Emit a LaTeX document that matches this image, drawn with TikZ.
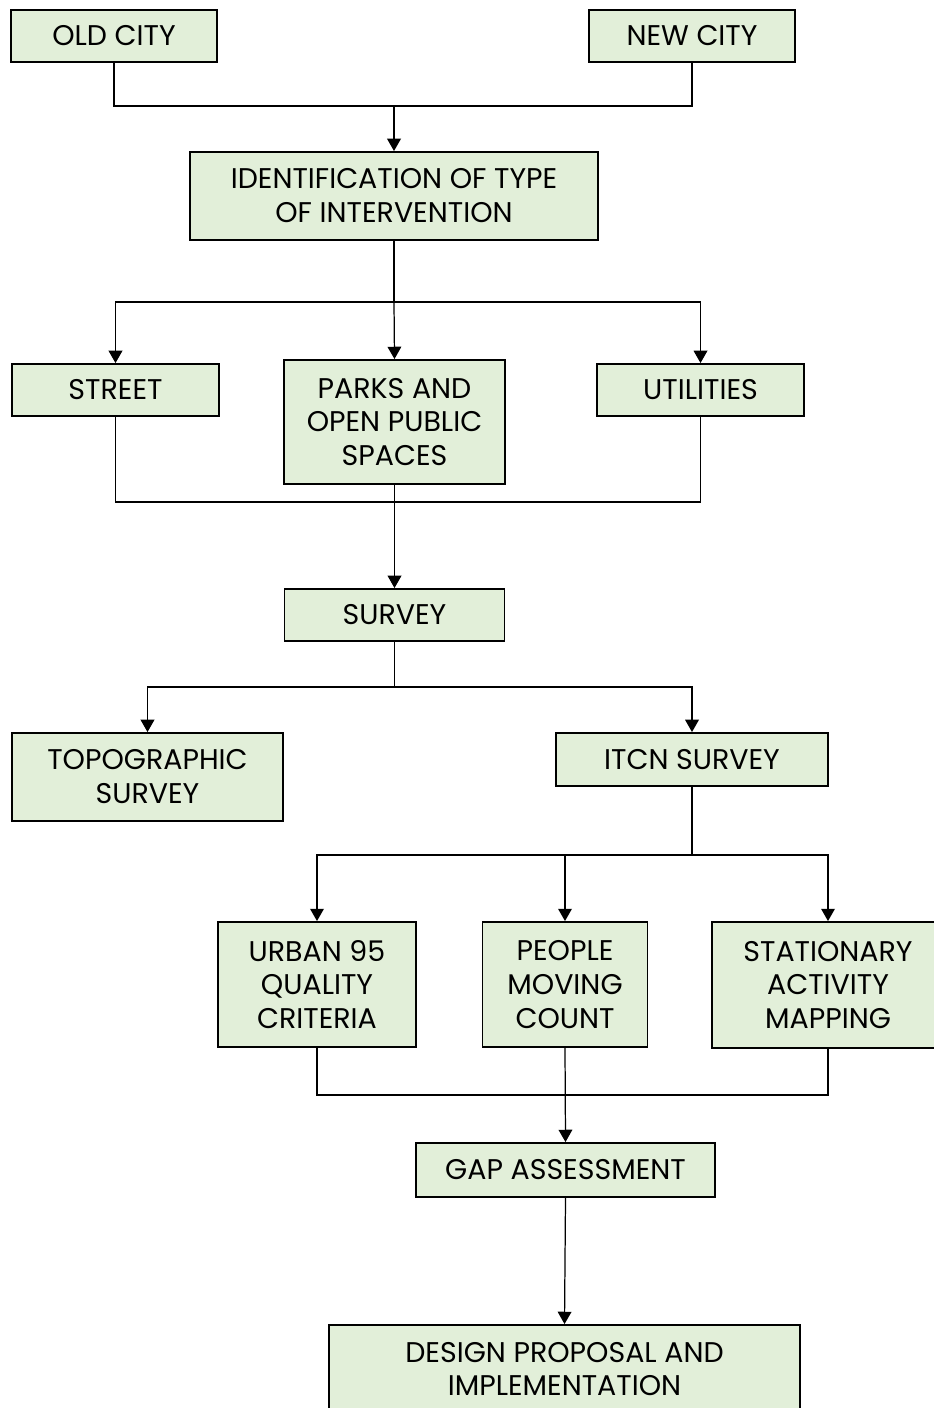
\documentclass[tikz,border=0pt]{standalone}
\usepackage{fontspec}
\setmainfont{Poppins}
\usepackage{xcolor}
\usetikzlibrary{arrows.meta}
\definecolor{boxgreen}{HTML}{E2EFD9}
\tikzset{
  stage/.style={draw=black,line width=1.1pt,fill=boxgreen,inner sep=0pt,
    align=center,font=\fontsize{16.2pt}{19.3pt}\selectfont},
  link/.style={line width=0.7pt},
  arr/.style={link,-{Triangle[length=7pt,width=7.8pt]}}
}
\begin{document}
\begin{tikzpicture}[x=0.02cm,y=-0.02cm]
    \useasboundingbox (0,0) rectangle (933,1408);
    \node[stage,minimum width=4.12cm,minimum height=1.04cm] (old) at (114,36) {OLD CITY};
    \node[stage,minimum width=4.12cm,minimum height=1.04cm] (new) at (692,36) {NEW CITY};
    \node[stage,minimum width=8.16cm,minimum height=1.76cm] (ident) at (394,196) {IDENTIFICATION OF TYPE\\OF INTERVENTION};
    \node[stage,minimum width=4.14cm,minimum height=1.04cm] (street) at (115.5,390) {STREET};
    \node[stage,minimum width=4.42cm,minimum height=2.48cm] (parks) at (394.5,422) {PARKS AND\\OPEN PUBLIC\\SPACES};
    \node[stage,minimum width=4.14cm,minimum height=1.04cm] (util) at (700.5,390) {UTILITIES};
    \node[stage,minimum width=4.40cm,minimum height=1.04cm] (survey) at (394.5,615) {SURVEY};
    \node[stage,minimum width=5.42cm,minimum height=1.76cm] (topo) at (147.5,777) {TOPOGRAPHIC\\SURVEY};
    \node[stage,minimum width=5.44cm,minimum height=1.06cm] (itcn) at (692,759.5) {ITCN SURVEY};
    \node[stage,minimum width=3.96cm,minimum height=2.50cm] (urban) at (317,984.5) {URBAN 95\\QUALITY\\CRITERIA};
    \node[stage,minimum width=3.30cm,minimum height=2.50cm] (people) at (565,984.5) {PEOPLE\\MOVING\\COUNT};
    \node[stage,minimum width=4.64cm,minimum height=2.52cm] (station) at (828,985) {STATIONARY\\ACTIVITY\\MAPPING};
    \node[stage,minimum width=5.98cm,minimum height=1.08cm] (gap) at (565.5,1170) {GAP ASSESSMENT};
    \node[stage,minimum width=9.42cm,minimum height=1.76cm] (design) at (564.5,1369) {DESIGN PROPOSAL AND\\IMPLEMENTATION};
    \coordinate (j1) at (394,106);
    \coordinate (j2) at (394,302);
    \coordinate (j3) at (394.5,502);
    \coordinate (j4) at (394.5,687);
    \coordinate (j5) at (692,855);
    \coordinate (j6) at (565,1095);
    \draw[link] (old.south) |- (j1) -| (new.south);
    \draw[arr] (j1) -- (ident.north);
    \draw[link] (ident.south) -- (j2);
    \draw[arr] (j2) -| (street.north);
    \draw[arr] (j2) -- (parks.north);
    \draw[arr] (j2) -| (util.north);
    \draw[link] (street.south) |- (j3) -| (util.south);
    \draw[arr] (parks.south) -- (survey.north);
    \draw[link] (survey.south) -- (j4);
    \draw[arr] (j4) -| (topo.north);
    \draw[arr] (j4) -| (itcn.north);
    \draw[link] (itcn.south) -- (j5);
    \draw[arr] (j5) -| (urban.north);
    \draw[arr] (j5) -| (people.north);
    \draw[arr] (j5) -| (station.north);
    \draw[link] (urban.south) |- (j6) -| (station.south);
    \draw[arr] (people.south) -- (gap.north);
    \draw[arr] (gap.south) -- (design.north);
\end{tikzpicture}
\end{document}
